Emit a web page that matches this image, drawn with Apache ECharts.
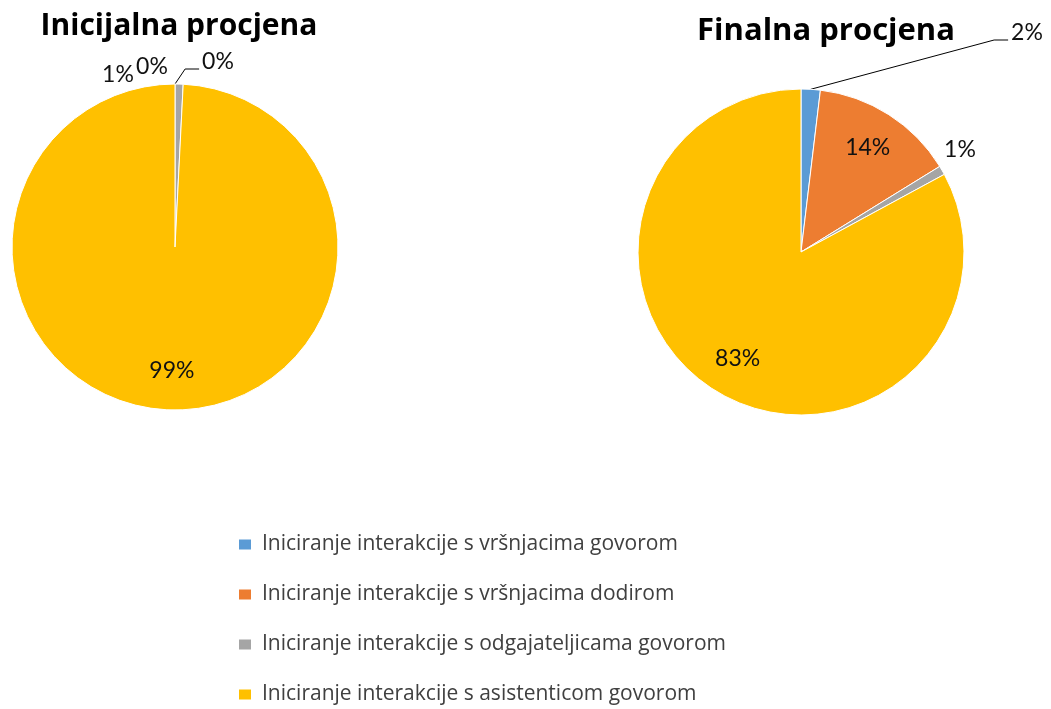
<!DOCTYPE html>
<html>
<head>
<meta charset="utf-8">
<script src="https://cdn.jsdelivr.net/npm/echarts@6/dist/echarts.min.js"></script>
<style>
  html, body { margin: 0; padding: 0; background: #fff; }
  #chart { width: 1051px; height: 709px; }
</style>
</head>
<body>
<div id="chart"></div>
<script>
  // kategorije i vrijednosti (postoci)
  var categories = [
    'Iniciranje interakcije s vršnjacima govorom',
    'Iniciranje interakcije s vršnjacima dodirom',
    'Iniciranje interakcije s odgajateljicama govorom',
    'Iniciranje interakcije s asistenticom govorom'
  ];
  var initialValues = [0, 0, 0.8, 99.2];
  var finalValues = [1.9, 14.3, 0.9, 82.9];
  var titles = ['Inicijalna procjena', 'Finalna procjena'];
  var colors = ['#5B9BD5', '#ED7D31', '#A5A5A5', '#FFC000'];

  var pies = [
    { center: [175, 247], r: 163, values: initialValues },
    { center: [801, 252], r: 163, values: finalValues }
  ];

  // mjesta oznaka koje Excel stavlja izvan kruga
  var outsideLabels = {
    '0-0': { x: 218, y: 62, line: true },
    '0-1': { x: 152, y: 67 },
    '0-2': { x: 118, y: 75 },
    '1-0': { x: 1027, y: 33, line: true },
    '1-2': { x: 960, y: 150 }
  };
  var insideFactor = 0.76;

  function midAngle(values, idx) {
    var total = 0, before = 0;
    values.forEach(function (v, i) { total += v; if (i < idx) before += v; });
    return (before + values[idx] / 2) / total * Math.PI * 2;
  }

  function layoutLabel(params) {
    var p = pies[params.seriesIndex];
    var a = midAngle(p.values, params.dataIndex);
    var key = params.seriesIndex + '-' + params.dataIndex;
    var o = outsideLabels[key];
    if (o) {
      var res = { x: o.x, y: o.y, align: 'center', verticalAlign: 'middle' };
      if (o.line) {
        var sx = p.center[0] + p.r * Math.sin(a);
        var sy = p.center[1] - p.r * Math.cos(a);
        var ex = o.x - params.labelRect.width / 2 - 3;
        var ey = o.y + 7;
        var bx = ex - 14;
        res.labelLinePoints = [[sx, sy], [bx, ey], [ex, ey]];
      }
      return res;
    }
    return {
      x: p.center[0] + p.r * insideFactor * Math.sin(a),
      y: p.center[1] - p.r * insideFactor * Math.cos(a),
      align: 'center',
      verticalAlign: 'middle'
    };
  }

  function makeSeries(i) {
    var p = pies[i];
    return {
      name: titles[i],
      type: 'pie',
      center: p.center,
      radius: p.r,
      startAngle: 90,
      clockwise: true,
      percentPrecision: 0,
      avoidLabelOverlap: false,
      animation: false,
      itemStyle: { borderColor: '#fff', borderWidth: 1 },
      label: {
        show: true,
        position: 'outside',
        formatter: '{d}%',
        fontFamily: 'Lato',
        fontSize: 23,
        color: '#111'
      },
      labelLine: { show: true, lineStyle: { color: '#000', width: 1 } },
      labelLayout: layoutLabel,
      emphasis: { disabled: true },
      data: p.values.map(function (v, k) {
        var item = { name: categories[k], value: v };
        if (!(outsideLabels[i + '-' + k] && outsideLabels[i + '-' + k].line)) {
          item.labelLine = { show: false };
        }
        return item;
      })
    };
  }

  var myChart = echarts.init(document.getElementById('chart'));
  myChart.setOption({
    color: colors,
    title: [
      { text: titles[0], left: 174, top: 6, textAlign: 'center',
        textStyle: { fontFamily: 'Open Sans', fontWeight: 'bold', fontSize: 30, color: '#000' } },
      { text: titles[1], left: 821, top: 11, textAlign: 'center',
        textStyle: { fontFamily: 'Open Sans', fontWeight: 'bold', fontSize: 31, color: '#000' } }
    ],
    legend: {
      orient: 'vertical',
      left: 237,
      top: 534,
      height: 175,
      padding: 0,
      itemWidth: 14,
      itemHeight: 12,
      itemGap: 29,
      icon: 'rect',
      data: categories,
      selectedMode: false,
      textStyle: { fontFamily: 'Open Sans', fontSize: 21, color: '#404040', lineHeight: 20, padding: [0, 0, 0, 5] }
    },
    series: [makeSeries(0), makeSeries(1)]
  });
</script>
</body>
</html>
